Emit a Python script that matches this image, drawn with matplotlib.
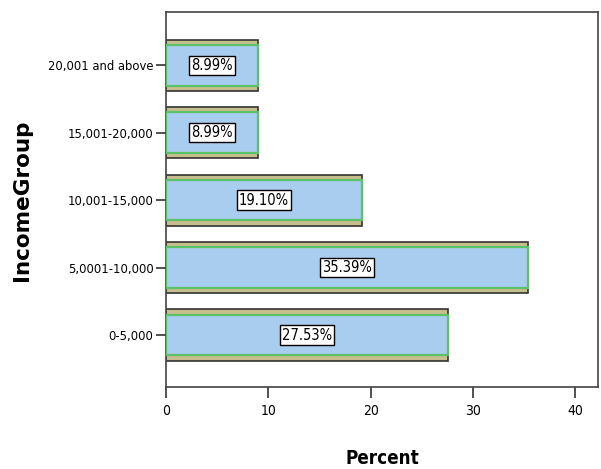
import matplotlib
matplotlib.use("Agg")
import matplotlib.pyplot as plt
import numpy as np

groups = ["0-5,000", "5,0001-10,000", "10,001-15,000", "15,001-20,000", "20,001 and above"]
percent = [27.53, 35.39, 19.10, 8.99, 8.99]
xticks = [0, 10, 20, 30, 40]

plt.rcParams['font.family'] = ['DejaVu Sans']
plt.rcParams['font.stretch'] = 'condensed'

fig = plt.figure(figsize=(6.01, 4.69), dpi=100)
ax = fig.add_axes([166/601, 1-387/469, (598-166)/601, (387-12)/469])

y = np.arange(len(groups))
ax.barh(y, percent, height=0.76, color='#c8bd8c', edgecolor='#333333', linewidth=1.2, zorder=2)
ax.barh(y, percent, height=0.6, color='#a9cdee', edgecolor='#5cc26a', linewidth=1.6, zorder=3)

for yi, v in zip(y, percent):
    ax.text(v/2, yi, f"{v:.2f}%", ha='center', va='center', fontsize=10.5, zorder=4,
            bbox=dict(boxstyle='square,pad=0.15', facecolor='white', edgecolor='black', linewidth=1))

ax.set_xlim(0, 42.2)
ax.set_ylim(-0.77, 4.79)
ax.set_xticks(xticks)
ax.set_yticks(y)
ax.set_yticklabels(groups)
ax.tick_params(axis='y', labelsize=9.3, length=7, width=1.2, color='#333333', pad=2)
ax.tick_params(axis='x', labelsize=10, length=8, width=1.2, color='#333333', pad=4)
for s in ax.spines.values():
    s.set_color('#444444')
    s.set_linewidth(1.2)

fig.text(382/601, 1-458/469, "Percent", fontsize=13.5, fontweight='bold', ha='center', va='center')
fig.text(22/601, 1-200/469, "IncomeGroup", fontsize=15.5, fontweight='bold', fontstretch='normal',
         rotation=90, ha='center', va='center')

fig.savefig("out.png", dpi=100)
